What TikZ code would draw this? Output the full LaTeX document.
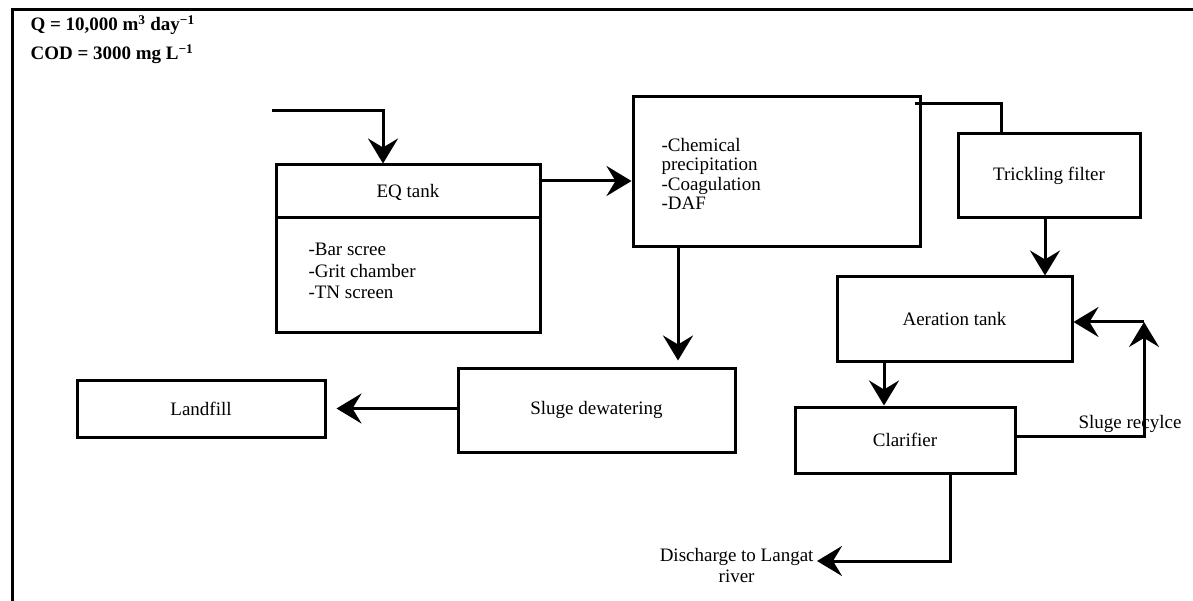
\documentclass[tikz,border=0pt]{standalone}
\usepackage{fontspec}
\setmainfont{Liberation Serif}
\usetikzlibrary{arrows.meta}
\tikzset{unit/.style = {draw, line width=3pt, inner sep=0pt},
         pipe/.style = {line width=3pt},
         flow/.style = {pipe, -{Stealth[length=25pt, width=30pt, inset=9pt]}}}

\begin{document}
\begin{tikzpicture}[x=1pt, y=-1pt, font=\fontsize{19}{21}\selectfont]
      \useasboundingbox (0, 0) rectangle (1193, 601);
      \draw [pipe] (12, 601) -- (12, 10) -- (1193, 10);

      \node [anchor=west] (flowrate) at (27, 25) {\textbf{Q = 10,000 m\textsuperscript{3} day\textsuperscript{−1}}};
      \node [anchor=west] (cod) at (27, 54) {\textbf{COD = 3000 mg L\textsuperscript{−1}}};

      \node [unit, minimum width=264pt, minimum height=167pt] (eq) at (408, 248.5) {};
      \node (eqname) at (408, 192) {EQ tank};
      \node [anchor=west, align=left, font=\fontsize{19}{21.5}\selectfont] (pre) at (305, 271) {-Bar scree\\-Grit chamber\\-TN screen};
      \node [unit, minimum width=287pt, minimum height=150pt] (chem) at (776.5, 172) {};
      \node [anchor=west, align=left, font=\fontsize{19}{19.5}\selectfont] (chemlist) at (658, 174) {-Chemical\\precipitation\\-Coagulation\\-DAF};
      \node [unit, minimum width=182pt, minimum height=84pt] (trick) at (1049, 176) {Trickling filter};
      \node [unit, minimum width=235pt, minimum height=84pt] (aer) at (954.5, 319) {Aeration tank};
      \node [unit, minimum width=220pt, minimum height=66pt] (clar) at (905, 440) {Clarifier};
      \node [unit, minimum width=277pt, minimum height=84pt] (dew) at (596.5, 410) {Sluge dewatering};
      \node [unit, minimum width=248pt, minimum height=57pt] (land) at (201, 408.5) {Landfill};
      \node (recycle) at (1130, 424) {Sluge recylce};
      \node [align=center, anchor=north east] (river) at (817, 545) {Discharge to Langat\\river};

      \coordinate (inlet) at (272, 111);
      \coordinate (eqdiv) at (0, 218);
      \coordinate (feed) at (0, 181);
      \coordinate (sink) at (678, 0);
      \coordinate (drop) at (884, 0);
      \coordinate (bio) at (1045, 0);
      \coordinate (rc) at (1144, 322);

      \draw [pipe] (eq.west |- eqdiv) -- (eq.east |- eqdiv);
      \draw [flow] (inlet) -| ([xshift=-25pt]eq.north);
      \draw [flow] (eq.east |- feed) -- (chem.west |- feed);
      \draw [pipe] ([shift={(-7pt, -8pt)}]chem.north east) -| ([xshift=-48pt]trick.north);
      \draw [flow] (trick.south -| bio) -- (aer.north -| bio);
      \draw [flow] (aer.south -| drop) -- (clar.north -| drop);
      \draw [flow] ([yshift=4pt]clar.east) -| (rc);
      \draw [flow] (rc) -- (aer.east |- rc);
      \draw [flow] ([xshift=45pt]clar.south) |- ([yshift=-16pt]river.north east);
      \draw [flow, shorten >=6pt] (chem.south -| sink) -- (dew.north -| sink);
      \draw [flow, shorten >=10pt] (dew.west |- land.east) -- (land.east);
\end{tikzpicture}
\end{document}
